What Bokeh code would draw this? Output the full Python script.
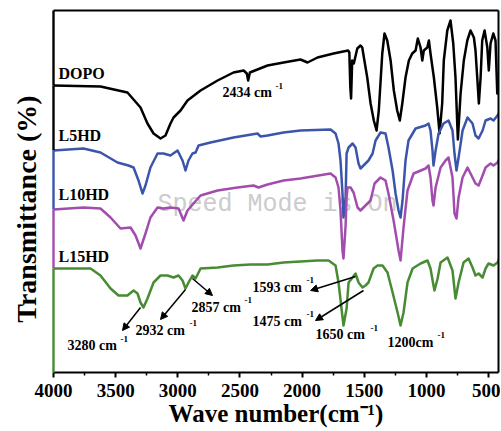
import math
from bokeh.plotting import figure
from bokeh.models import Range1d, FixedTicker, Label, Arrow, NormalHead, LinearAxis
from bokeh.embed import file_html
from bokeh.resources import INLINE

# ---------------- data (wave number cm^-1, transmittance offset units) ----------------
dopo_wn = [4000, 3622, 3405, 3300, 3244, 3195, 3139, 3099, 3059, 3034,
           2978, 2922, 2817, 2680, 2552, 2470, 2445, 2434, 2420, 2400,
           2278, 2149, 2013, 1956, 1876, 1747, 1630, 1620, 1612, 1606,
           1597, 1584, 1556, 1530, 1516, 1503, 1476, 1449, 1423, 1401,
           1383, 1355, 1337, 1315, 1288, 1262, 1235, 1214, 1194, 1168,
           1141, 1114, 1087, 1069, 1047, 1033, 1021, 993, 980, 967,
           940, 913, 894, 873, 860, 832, 806, 784, 766, 747,
           725, 699, 671, 645, 618, 605, 591, 578, 564, 551,
           532, 510, 498, 484, 462, 444, 430, 418]
dopo_t = [287, 286, 280, 265, 249, 239, 234, 237, 249, 255,
          262, 272, 282, 292, 300, 302, 299, 292, 300, 301,
          307, 310, 313, 310, 315, 319, 322, 320, 285, 274,
          312, 309, 324, 327, 325, 315, 295, 269, 252, 242,
          262, 319, 339, 332, 312, 282, 262, 252, 269, 295,
          312, 319, 322, 334, 325, 312, 322, 325, 332, 319,
          295, 265, 239, 269, 312, 342, 352, 329, 295, 233,
          279, 312, 332, 342, 335, 322, 295, 269, 295, 332,
          342, 325, 302, 329, 339, 332, 279, 290]

l5hd_wn = [4000, 3759, 3622, 3485, 3397, 3356, 3316, 3284, 3260, 3220,
           3163, 3115, 3059, 3002, 2962, 2938, 2914, 2882, 2857, 2833,
           2737, 2552, 2359, 2334, 2278, 2149, 2013, 1771, 1731, 1707,
           1691, 1675, 1667, 1650, 1642, 1626, 1594, 1570, 1546, 1530,
           1506, 1466, 1433, 1409, 1369, 1329, 1305, 1272, 1248, 1224,
           1208, 1192, 1168, 1144, 1087, 1007, 983, 967, 951, 943,
           926, 902, 862, 822, 790, 774, 758, 741, 709, 669,
           629, 605, 580, 548, 524, 484, 460, 428, 412]
l5hd_t = [222, 224, 220, 210, 207, 205, 192, 179, 187, 205,
          219, 219, 217, 222, 212, 202, 212, 219, 220, 227,
          230, 235, 239, 236, 237, 240, 242, 243, 239, 229,
          212, 179, 155, 175, 219, 225, 229, 225, 209, 204,
          207, 212, 219, 232, 240, 239, 225, 202, 179, 162,
          155, 172, 212, 232, 244, 247, 249, 242, 222, 207,
          222, 239, 249, 252, 242, 219, 202, 215, 242, 255,
          249, 237, 234, 242, 252, 254, 252, 257, 260]

l10hd_wn = [4000, 3759, 3622, 3541, 3461, 3380, 3340, 3300, 3260, 3220,
            3163, 3115, 3059, 2994, 2954, 2922, 2874, 2817, 2680, 2520,
            2391, 2351, 2278, 2149, 2013, 1771, 1731, 1707, 1691, 1675,
            1667, 1650, 1642, 1634, 1610, 1586, 1554, 1530, 1490, 1449,
            1417, 1369, 1329, 1305, 1264, 1224, 1208, 1184, 1152, 1103,
            1007, 983, 967, 951, 943, 926, 886, 846, 822, 790,
            774, 758, 741, 709, 669, 629, 605, 580, 548, 524,
            484, 460, 428, 412]
l10hd_t = [163, 165, 164, 155, 144, 145, 137, 124, 139, 155,
           165, 164, 165, 164, 152, 162, 169, 177, 182, 185,
           187, 185, 188, 192, 194, 199, 195, 185, 162, 122,
           114, 147, 175, 185, 185, 180, 165, 162, 167, 172,
           189, 195, 192, 179, 152, 122, 112, 145, 182, 199,
           204, 207, 195, 172, 167, 185, 205, 212, 215, 195,
           159, 154, 175, 195, 205, 195, 189, 187, 197, 205,
           209, 207, 210, 214]

l15hd_wn = [4000, 3702, 3622, 3541, 3477, 3405, 3356, 3324, 3300, 3276,
            3244, 3195, 3139, 3083, 3034, 2994, 2962, 2938, 2914, 2882,
            2857, 2817, 2680, 2552, 2415, 2278, 2149, 1876, 1787, 1731,
            1707, 1683, 1667, 1642, 1626, 1594, 1570, 1546, 1514, 1490,
            1466, 1425, 1393, 1353, 1313, 1272, 1232, 1208, 1184, 1152,
            1111, 1047, 991, 967, 943, 935, 910, 886, 830, 790,
            766, 741, 701, 661, 629, 605, 580, 548, 524, 500,
            460, 428, 412]
l15hd_t = [104, 104, 97, 84, 77, 77, 82, 79, 70, 65,
           74, 90, 97, 97, 95, 97, 92, 84, 90, 97,
           94, 104, 105, 107, 108, 108, 110, 112, 112, 107,
           90, 64, 47, 64, 90, 95, 99, 90, 85, 87,
           90, 104, 107, 107, 100, 80, 60, 47, 60, 90,
           104, 109, 112, 104, 87, 82, 94, 110, 115, 102,
           74, 90, 110, 114, 105, 97, 99, 95, 104, 109,
           107, 110, 114]

series_names = ["DOPO", "L5HD", "L10HD", "L15HD"]
x_ticks = [4000, 3500, 3000, 2500, 2000, 1500, 1000, 500]
x_minor = [3750, 3250, 2750, 2250, 1750, 1250, 750]
x_title = "Wave number(cm\u207b\u00b9)"
y_title = "Transmittance (%)"

peak_texts = ["2434 cm", "3280 cm", "2932 cm", "2857 cm", "1593 cm", "1475 cm", "1650 cm", "1200cm"]
sup_text = "-1"

# ---------------- styles / layout ----------------
colors = ["#000000", "#3b55ab", "#a24dae", "#478b33"]
FONT = "Liberation Serif"

p = figure(width=500, height=430, output_backend="svg", toolbar_location=None,
           x_range=Range1d(4000, 420), y_range=Range1d(0, 362),
           min_border_left=53, min_border_right=2, min_border_top=10, min_border_bottom=58)
p.grid.visible = False
p.outline_line_color = None

# y axis: title only
p.yaxis.ticker = FixedTicker(ticks=[])
p.yaxis.major_label_text_font_size = "0px"
p.yaxis.major_label_standoff = 0
p.yaxis.major_tick_out = 0
p.yaxis.major_tick_in = 0
p.yaxis.axis_line_color = None
p.yaxis.axis_label = y_title + "\u00a0" * 5
p.yaxis.axis_label_text_font = FONT
p.yaxis.axis_label_text_font_style = "bold"
p.yaxis.axis_label_text_font_size = "28px"
p.yaxis.axis_label_text_color = "black"
p.yaxis.axis_label_standoff = 12

# x axis
p.xaxis.ticker = FixedTicker(ticks=x_ticks, minor_ticks=x_minor)
p.xaxis.axis_line_width = 2
p.xaxis.major_tick_in = 0
p.xaxis.major_tick_out = 5
p.xaxis.major_tick_line_width = 2
p.xaxis.minor_tick_in = 0
p.xaxis.minor_tick_out = 3
p.xaxis.minor_tick_line_width = 1.5
p.xaxis.major_label_text_font = FONT
p.xaxis.major_label_text_font_style = "bold"
p.xaxis.major_label_text_font_size = "19px"
p.xaxis.major_label_text_color = "black"
p.xaxis.major_label_standoff = 6
p.xaxis.axis_label = x_title
p.xaxis.axis_label_text_font = FONT
p.xaxis.axis_label_text_font_style = "bold"
p.xaxis.axis_label_text_font_size = "25px"
p.xaxis.axis_label_text_color = "black"
p.xaxis.axis_label_standoff = 0

# frame top / right edges
for side in ("above", "right"):
    ax = LinearAxis(ticker=FixedTicker(ticks=[]), major_label_text_font_size="0px",
                    major_tick_out=0, major_tick_in=0, major_label_standoff=0,
                    axis_line_width=2, axis_line_color="black")
    p.add_layout(ax, side)

# watermark (under curves)
p.add_layout(Label(x=3163, y=168, text="Speed Mode is On", text_font="Liberation Mono",
                   text_font_size="25px", text_color="#cccccc", text_align="left",
                   text_baseline="middle", level="underlay"))

# curves
all_wn = [dopo_wn, l5hd_wn, l10hd_wn, l15hd_wn]
all_t = [dopo_t, l5hd_t, l10hd_t, l15hd_t]
for wn, t, c in zip(all_wn, all_t, colors):
    p.line(wn, t, line_color=c, line_width=2.5, line_join="round")

# left edge segments coloured like the spectra
starts = [t[0] for t in all_t]
ends = starts[1:] + [0]
p.segment(x0=[4000] * 4, y0=starts, x1=[4000] * 4, y1=ends, line_color=colors,
          line_width=2.4, level="overlay")
p.segment(x0=[4000], y0=[362], x1=[4000], y1=[starts[0]], line_color="black",
          line_width=2.4, level="overlay")


def lab(text, x, y, size, align="left", baseline="middle"):
    p.add_layout(Label(x=x, y=y, text=text, text_font=FONT, text_font_style="bold",
                       text_font_size=size, text_color="black", text_align=align,
                       text_baseline=baseline))


# series names
name_pos = [(3960, 299), (3960, 237), (3960, 178), (3960, 116)]
for name, (x, y) in zip(series_names, name_pos):
    lab(name, x, y, "16px")

# peak annotations with superscripts
main_pos = [(2640, 280), (3887, 27), (3340, 42), (2890, 65), (2399, 85), (2399, 51), (1892, 38), (1313, 30)]
sup_pos = [(2214, 287), (3461, 34), (2906, 50), (2463, 73), (1964, 93), (1964, 59), (1449, 45), (910, 38)]
for txt, (mx, my), (sx, sy) in zip(peak_texts, main_pos, sup_pos):
    lab(txt, mx, my, "14px")
    lab(sup_text, sx, sy, "9px")

# arrows
arrows = [((3300, 65), (3445, 42)), ((2938, 83), (3139, 53)), ((2882, 94), (2721, 77)),
          ((1570, 96), (1932, 82)), ((1506, 82), (1892, 52))]
for (x0, y0), (x1, y1) in arrows:
    p.add_layout(Arrow(end=NormalHead(size=7, fill_color="black", line_color="black"),
                       x_start=x0, y_start=y0, x_end=x1, y_end=y1,
                       line_color="black", line_width=1.5))

open("out.html", "w").write(file_html(p, INLINE))
